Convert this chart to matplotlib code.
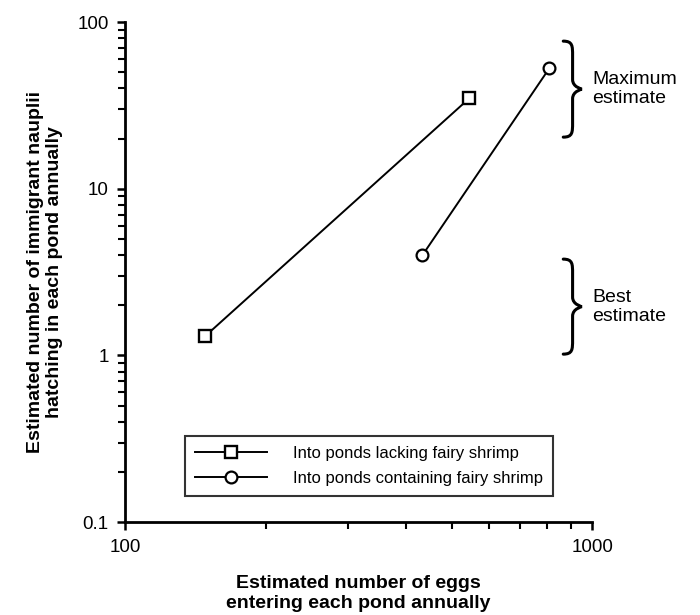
import matplotlib.pyplot as plt
import numpy as np
from matplotlib.path import Path
from matplotlib.patches import PathPatch
from matplotlib.ticker import FuncFormatter, LogLocator, NullFormatter

plt.rcParams['font.family'] = ['Liberation Sans', 'DejaVu Sans']

# data (log-log axes)
eggs_lacking = [148, 546]
nauplii_lacking = [1.3, 35]
eggs_containing = [433, 810]
nauplii_containing = [4.0, 53]

legend_labels = ["Into ponds lacking fairy shrimp", "Into ponds containing fairy shrimp"]


def draw_brace(ax, x0, x_tip, y_top, y_bot):
    """Draw a right-facing curly brace in axes-fraction coordinates."""
    y_mid = (y_top + y_bot) / 2
    xm = (x0 + x_tip) / 2
    h = y_top - y_bot
    verts = [
        (x0, y_top),
        (xm, y_top), (xm, y_top - 0.05 * h), (xm, y_top - 0.15 * h),
        (xm, y_mid + 0.1 * h),
        (xm, y_mid + 0.02 * h), (x_tip, y_mid), (x_tip, y_mid),
        (x_tip, y_mid), (xm, y_mid - 0.02 * h), (xm, y_mid - 0.1 * h),
        (xm, y_bot + 0.15 * h),
        (xm, y_bot + 0.05 * h), (xm, y_bot), (x0, y_bot),
    ]
    codes = [Path.MOVETO,
             Path.CURVE4, Path.CURVE4, Path.CURVE4,
             Path.LINETO,
             Path.CURVE4, Path.CURVE4, Path.CURVE4,
             Path.CURVE4, Path.CURVE4, Path.CURVE4,
             Path.LINETO,
             Path.CURVE4, Path.CURVE4, Path.CURVE4]
    patch = PathPatch(Path(verts, codes), transform=ax.transAxes, fill=False,
                      lw=2.2, color="black", clip_on=False, capstyle="round")
    ax.add_patch(patch)


fig = plt.figure(figsize=(7, 6.15), dpi=100)
ax = fig.add_axes([0.179, 0.151, 0.667, 0.813])

ax.plot(eggs_lacking, nauplii_lacking, color="black", lw=1.4, marker="s",
        markersize=9, markerfacecolor="white", markeredgewidth=1.7,
        label=legend_labels[0])
ax.plot(eggs_containing, nauplii_containing, color="black", lw=1.4, marker="o",
        markersize=8.5, markerfacecolor="white", markeredgewidth=1.6,
        label=legend_labels[1])

ax.set_xscale("log")
ax.set_yscale("log")
ax.set_xlim(100, 1000)
ax.set_ylim(0.1, 100)

ax.xaxis.set_major_locator(LogLocator(base=10, numticks=10))
ax.xaxis.set_minor_locator(LogLocator(base=10, subs=np.arange(2, 10), numticks=10))
ax.yaxis.set_major_locator(LogLocator(base=10, numticks=10))
ax.yaxis.set_minor_locator(LogLocator(base=10, subs=np.arange(2, 10), numticks=10))
fmt = FuncFormatter(lambda v, pos: f"{v:g}")
ax.xaxis.set_major_formatter(fmt)
ax.yaxis.set_major_formatter(fmt)
ax.xaxis.set_minor_formatter(NullFormatter())
ax.yaxis.set_minor_formatter(NullFormatter())

for side in ("top", "right"):
    ax.spines[side].set_visible(False)
for side in ("left", "bottom"):
    ax.spines[side].set_linewidth(2.0)

ax.tick_params(which="major", direction="out", length=6, width=1.8, labelsize=13.5, pad=6)
ax.tick_params(which="minor", direction="out", length=5, width=1.5)

ax.set_xlabel("Estimated number of eggs\nentering each pond annually",
              fontsize=14, fontweight="bold", labelpad=14, linespacing=1.2)
ax.set_ylabel("Estimated number of immigrant nauplii\nhatching in each pond annually",
              fontsize=14, fontweight="bold", labelpad=10, linespacing=1.2)

leg = ax.legend(loc="lower left", bbox_to_anchor=(0.11, 0.035), fontsize=12,
                frameon=True, fancybox=False, edgecolor="black", handlelength=4.3,
                handletextpad=1.6, borderpad=0.6, labelspacing=0.6)
leg.get_frame().set_linewidth(1.5)

# brace annotations
draw_brace(ax, 0.938, 0.978, 0.962, 0.770)
draw_brace(ax, 0.938, 0.978, 0.526, 0.336)
ax.text(1.0, 0.866, "Maximum\nestimate", transform=ax.transAxes, fontsize=14,
        va="center", ha="left", linespacing=1.15)
ax.text(1.0, 0.430, "Best\nestimate", transform=ax.transAxes, fontsize=14,
        va="center", ha="left", linespacing=1.15)

fig.savefig("out.png", dpi=100)
